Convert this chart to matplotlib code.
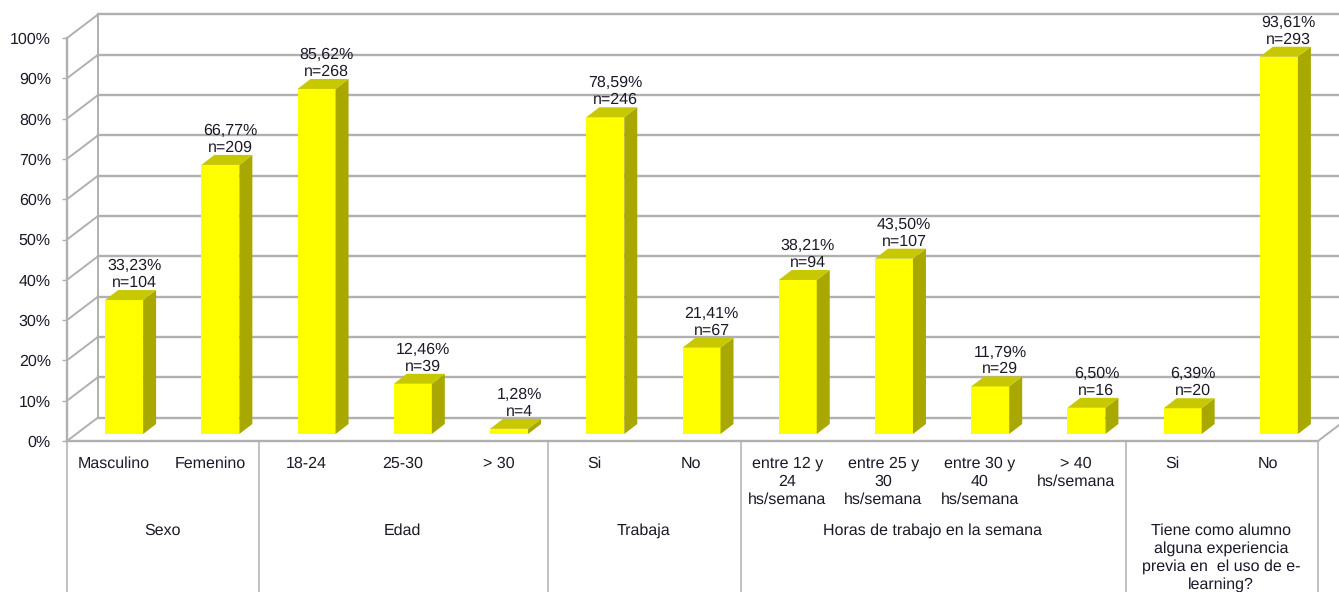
"""
Grouped 3D-look bar chart of student profile percentages.
"""
import matplotlib.pyplot as plt
from matplotlib.patches import Polygon
from matplotlib.transforms import ScaledTranslation, blended_transform_factory

plt.rcParams['font.family'] = ['Liberation Sans', 'DejaVu Sans']
plt.rcParams['text.hinting'] = 'no_hinting'

# Data
categories = ['Masculino', 'Femenino', '18-24', '25-30', '> 30', 'Si', 'No',
              'entre 12 y\n24\nhs/semana', 'entre 25 y\n30\nhs/semana',
              'entre 30 y\n40\nhs/semana', '> 40\nhs/semana', 'Si', 'No']
percentages = [33.23, 66.77, 85.62, 12.46, 1.28, 78.59, 21.41,
               38.21, 43.50, 11.79, 6.50, 6.39, 93.61]
counts = [104, 209, 268, 39, 4, 246, 67, 94, 107, 29, 16, 20, 293]
group_names = ['Sexo', 'Edad', 'Trabaja', 'Horas de trabajo en la semana',
               'Tiene como alumno\nalguna experiencia\nprevia en  el uso de e-\nlearning?']
group_sizes = [2, 3, 2, 4, 2]
y_ticks = [0, 10, 20, 30, 40, 50, 60, 70, 80, 90, 100]

# Figure geometry in pixels
WIDTH, HEIGHT = 1339, 592
AX_LEFT, AX_RIGHT = 67, 1318
AX_BOTTOM, AX_TOP = 441, 38
GRID_COLOR = '#b0b0b0'
TEXT_COLOR = '#1a1a2a'
FONT_SIZE = 11.5
FRONT, TOP, SIDE = '#ffff00', '#c8c800', '#a8a800'


def main():
    fig = plt.figure(figsize=(WIDTH / 100, HEIGHT / 100), dpi=100)
    ax = fig.add_axes([AX_LEFT / WIDTH, (HEIGHT - AX_BOTTOM) / HEIGHT,
                       (AX_RIGHT - AX_LEFT) / WIDTH, (AX_BOTTOM - AX_TOP) / HEIGHT])
    n = len(categories)
    ax.set_xlim(-0.5, n - 0.5)
    ax.set_ylim(0, 100)

    # pixels to data units
    px_x = (n / (AX_RIGHT - AX_LEFT))
    px_y = 100 / (AX_BOTTOM - AX_TOP)
    depth_x, depth_y = 31 * px_x, 23.5 * px_y
    bar_w = 38 * px_x
    bar_dx, bar_dy = 13 * px_x, 10 * px_y
    x_left, x_right = -0.5, n - 0.5

    # walls and grid
    for v in y_ticks:
        ax.plot([x_left, x_left + depth_x], [v, v + depth_y], color=GRID_COLOR, lw=1.4,
                clip_on=False, zorder=1)
        ax.plot([x_left + depth_x, x_right + depth_x * 2], [v + depth_y, v + depth_y],
                color=GRID_COLOR, lw=1.7, clip_on=False, zorder=1)
    ax.plot([x_left + depth_x, x_left + depth_x], [0 + depth_y, 100 + depth_y], color=GRID_COLOR,
            lw=1.4, clip_on=False, zorder=1)
    ax.plot([x_right, x_right + depth_x], [0, depth_y], color=GRID_COLOR, lw=1.4,
            clip_on=False, zorder=1)

    # bars, floating a little above the front edge of the floor
    base = 7 * px_y
    shift = 9 * px_x
    for i, (pct, cnt) in enumerate(zip(percentages, counts)):
        x0 = i - bar_w / 2 + shift
        x1 = x0 + bar_w
        y0 = base
        y1 = base + pct
        ax.add_patch(Polygon([(x0, y0), (x1, y0), (x1, y1), (x0, y1)], facecolor=FRONT,
                             edgecolor='none', clip_on=False, zorder=3))
        ax.add_patch(Polygon([(x1, y0), (x1 + bar_dx, y0 + bar_dy), (x1 + bar_dx, y1 + bar_dy), (x1, y1)],
                             facecolor=SIDE, edgecolor='none', clip_on=False, zorder=3))
        ax.add_patch(Polygon([(x0, y1), (x1, y1), (x1 + bar_dx, y1 + bar_dy), (x0 + bar_dx, y1 + bar_dy)],
                             facecolor=TOP, edgecolor='none', clip_on=False, zorder=3))
        label = f'{pct:.2f}'.replace('.', ',') + f'%\nn={cnt}'
        ax.text(x0 + bar_w / 2 + 10 * px_x, y1 + 10 * px_y, label, ha='center', va='bottom',
                fontsize=FONT_SIZE, color=TEXT_COLOR, linespacing=1.14, zorder=4, clip_on=False)

    # axes
    for name, spine in ax.spines.items():
        spine.set_visible(name in ('left', 'bottom'))
        spine.set_color(GRID_COLOR)
        spine.set_linewidth(1.7)
    ax.patch.set_visible(False)
    ax.set_yticks(y_ticks)
    ax.set_yticklabels([f'{v}%' for v in y_ticks], fontsize=FONT_SIZE, color=TEXT_COLOR)
    ax.tick_params(axis='y', length=3.6, width=1.0, color=GRID_COLOR, pad=8)
    ax.set_xticks(range(n))
    ax.set_xticklabels(categories, fontsize=FONT_SIZE, color=TEXT_COLOR, linespacing=1.27)
    ax.tick_params(axis='x', length=0, pad=11)
    nudge = ScaledTranslation(-1.5 / 100, 0, fig.dpi_scale_trans)
    for tick in ax.get_xticklabels():
        tick.set_transform(tick.get_transform() + nudge)

    # group dividers and labels below the axis
    trans = blended_transform_factory(ax.transData, ax.transAxes)
    pos = -0.5
    edges = [pos]
    for size in group_sizes:
        pos += size
        edges.append(pos)
    for edge in edges:
        ax.plot([edge, edge], [0, -(HEIGHT - AX_BOTTOM) / (AX_BOTTOM - AX_TOP)], transform=trans,
                color=GRID_COLOR, lw=1.1, clip_on=False, zorder=1)
    group_y = -(523 - AX_BOTTOM) / (AX_BOTTOM - AX_TOP)
    for name, left, right in zip(group_names, edges[:-1], edges[1:]):
        ax.text((left + right) / 2 - 1 * px_x, group_y, name, transform=trans, ha='center', va='top',
                fontsize=FONT_SIZE, color=TEXT_COLOR, linespacing=1.27, clip_on=False)

    fig.savefig('out.png', dpi=100, facecolor='white')
    plt.close(fig)


if __name__ == '__main__':
    main()
